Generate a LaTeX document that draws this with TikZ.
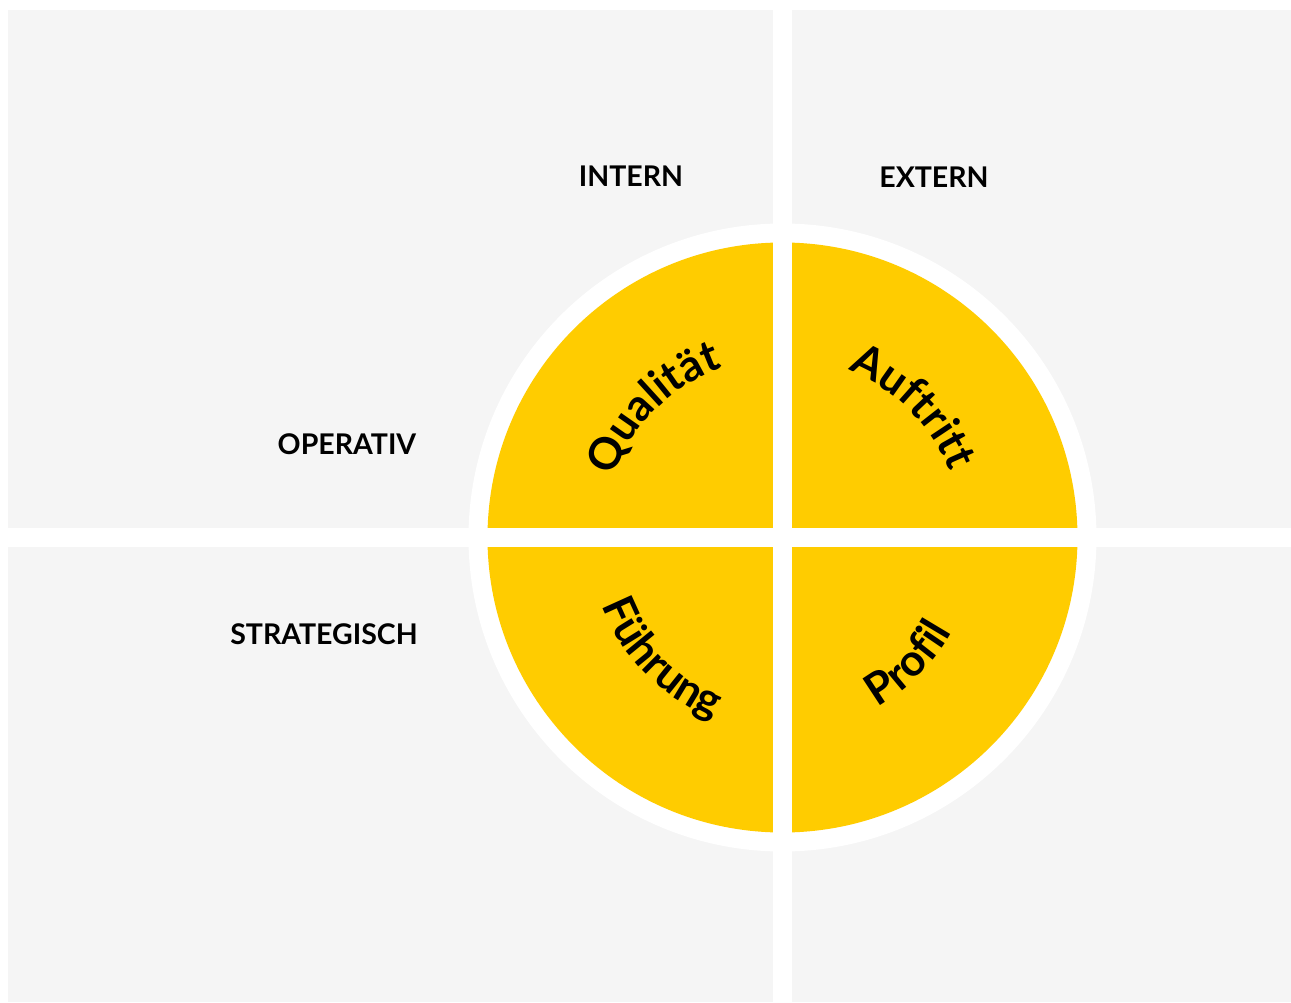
\documentclass[tikz,border=0pt]{standalone}
\usepackage{fontspec}
\setmainfont{Lato}
\usetikzlibrary{decorations.text}
\definecolor{panelgray}{HTML}{F5F5F5}
\definecolor{sunyellow}{HTML}{FFCC00}
\newcommand{\wordfont}{\fontsize{44}{50}\selectfont\bfseries}

\begin{document}
\begin{tikzpicture}[x=1pt,y=1pt,
    axislabel/.style={font=\fontsize{28.5}{32}\selectfont\bfseries, text=black},
    bendword/.style={decorate, decoration={text along path, text align=center, text={|\wordfont|#1}}}]
    \useasboundingbox (-782.5,-464.5) rectangle (508.5,537.5);

    % panels
    \fill[white] (-782.5,-464.5) rectangle (508.5,537.5);
    \fill[panelgray] (-774.5,-464.5) rectangle (508.5,527.5);

    % circle
    \fill[white] (0,0) circle (314);
    \fill[sunyellow] (0,0) circle (295);
    \fill[white] (-9.5,-464.5) rectangle (9.5,527.5);
    \fill[white] (-774.5,-9.5) rectangle (508.5,9.5);

    % axes
    \node[axislabel] (intern) at (-151.5,361.5) {INTERN};
    \node[axislabel] (extern) at (151.5,360.5) {EXTERN};
    \node[axislabel] (operativ) at (-435.5,93.5) {OPERATIV};
    \node[axislabel] (strategisch) at (-458.5,-96.5) {STRATEGISCH};

    % words
    \path[bendword=Qualität] (180:180) arc[start angle=180, end angle=90, radius=180];
    \path[bendword=Auftritt] (90:180) arc[start angle=90, end angle=0, radius=180];
    \path[bendword=Führung] (180:193) arc[start angle=180, end angle=270, radius=193];
    \path[bendword=Profil] (270:194) arc[start angle=270, end angle=360, radius=194];

\end{tikzpicture}
\end{document}
